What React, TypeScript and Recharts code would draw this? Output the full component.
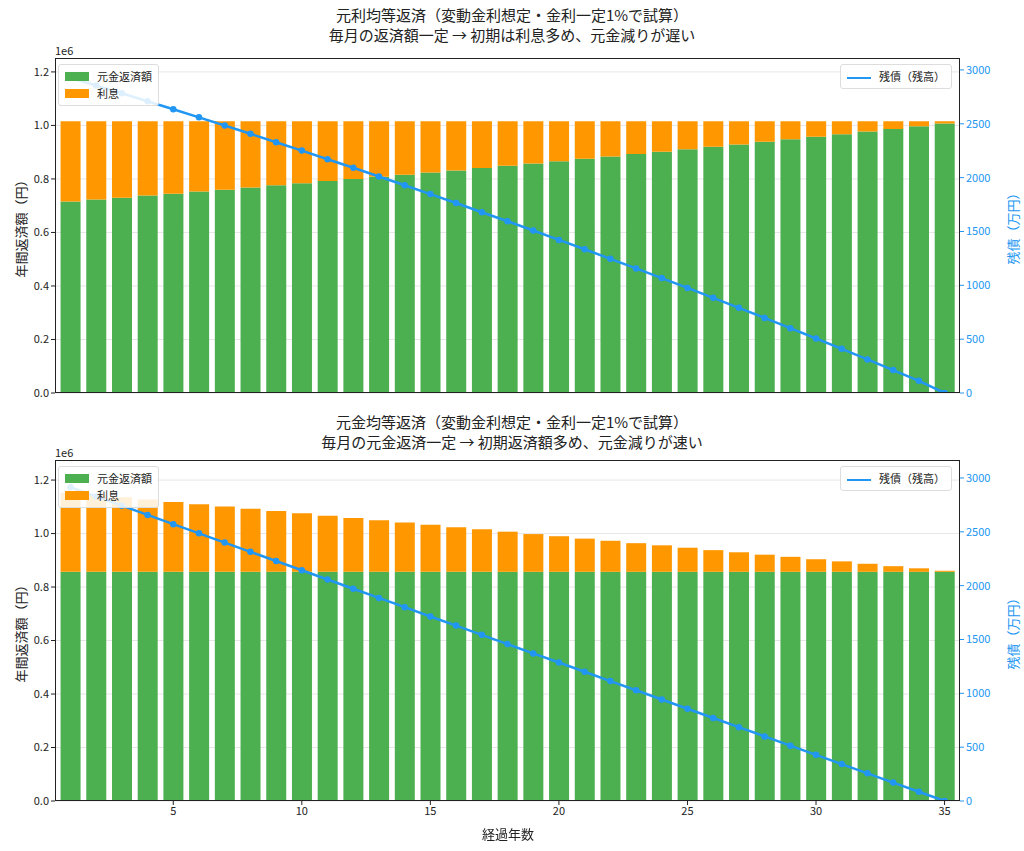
import { ComposedChart, Bar, Line, XAxis, YAxis, CartesianGrid } from 'recharts';

const years = Array.from({ length: 35 }, (_, i) => i + 1);

// 元利均等（円 / 万円）
const principalA = [716000, 723000, 730000, 738000, 745000, 753000, 760000, 768000, 776000, 784000, 792000, 800000, 808000, 816000, 824000, 832000, 841000, 849000, 858000, 866000, 875000, 884000, 893000, 902000, 911000, 920000, 929000, 939000, 948000, 958000, 967000, 977000, 987000, 997000, 1007000];
const paymentA = 1016000;
const balanceA = [2928, 2856, 2783, 2709, 2635, 2560, 2484, 2407, 2329, 2251, 2171, 2092, 2011, 1929, 1847, 1764, 1679, 1595, 1509, 1422, 1335, 1246, 1157, 1067, 976, 884, 791, 697, 602, 506, 410, 312, 213, 113, 0];

// 元金均等
const principalB = 857000;
const interestB = [296000, 287000, 279000, 270000, 261000, 253000, 244000, 236000, 227000, 219000, 210000, 201000, 193000, 184000, 176000, 167000, 159000, 150000, 141000, 133000, 124000, 116000, 107000, 99000, 90000, 81000, 73000, 64000, 56000, 47000, 39000, 30000, 21000, 13000, 4000];
const balanceB = [2914, 2829, 2743, 2657, 2571, 2486, 2400, 2314, 2229, 2143, 2057, 1971, 1886, 1800, 1714, 1629, 1543, 1457, 1371, 1286, 1200, 1114, 1029, 943, 857, 771, 686, 600, 514, 429, 343, 257, 171, 86, 0];

const dataA = years.map((y, i) => ({ year: y, principal: principalA[i], interest: paymentA - principalA[i], balance: balanceA[i] }));
const dataB = years.map((y, i) => ({ year: y, principal: principalB, interest: interestB[i], balance: balanceB[i] }));

const leftTicks = [0, 200000, 400000, 600000, 800000, 1000000, 1200000];
const rightTicks = [0, 500, 1000, 1500, 2000, 2500, 3000];
const xTicks = [5, 10, 15, 20, 25, 30, 35];

const GREEN = '#4caf50';
const ORANGE = '#ff9800';
const BLUE = '#2196f3';
const FONT = '"Noto Sans CJK JP", "Noto Sans", sans-serif';

function Panel({ data, top, plotH, leftMax, rightMax, showX }: any) {
  return (
    <div style={{ position: 'absolute', left: 0, top }}>
      <ComposedChart width={1024} height={plotH + 30} data={data} margin={{ top: 0, right: 0, left: 8, bottom: 0 }} barCategoryGap={0}>
        <CartesianGrid vertical={false} yAxisId="left" stroke="#e6e6e6" />
        <XAxis dataKey="year" type="number" domain={[0.4, 35.6]} ticks={xTicks} height={30} tick={showX ? { fontSize: 11, fill: '#222' } : false} tickLine={{ stroke: '#222' }} axisLine={false} tickSize={4} />
        <YAxis yAxisId="left" width={47} domain={[0, leftMax]} ticks={leftTicks} tickFormatter={(v) => (v / 1e6).toFixed(1)} tick={{ fontSize: 11, fill: '#222' }} tickLine={{ stroke: '#222' }} axisLine={false} tickSize={4} allowDataOverflow />
        <YAxis yAxisId="right" orientation="right" width={64} domain={[0, rightMax]} ticks={rightTicks} tick={{ fontSize: 11, fill: BLUE }} tickLine={{ stroke: BLUE }} axisLine={false} tickSize={4} allowDataOverflow />
        <Bar yAxisId="left" dataKey="principal" stackId="a" fill={GREEN} barSize={20} isAnimationActive={false} />
        <Bar yAxisId="left" dataKey="interest" stackId="a" fill={ORANGE} barSize={20} isAnimationActive={false} />
        <Line yAxisId="right" dataKey="balance" stroke={BLUE} strokeWidth={2.5} dot={{ r: 2, fill: BLUE, stroke: BLUE }} isAnimationActive={false} />
      </ComposedChart>
      <div style={{ position: 'absolute', left: 55, top: 0, width: 905, height: plotH, border: '1px solid #222', boxSizing: 'border-box', pointerEvents: 'none' }} />
      <div style={{ position: 'absolute', left: 58, top: 6, background: 'rgba(255,255,255,0.85)', border: '1px solid #ddd', borderRadius: 3, padding: '3px 6px', fontSize: 11, lineHeight: '17px' }}>
        <div><span style={{ display: 'inline-block', width: 24, height: 9, background: GREEN, marginRight: 8 }} />元金返済額</div>
        <div><span style={{ display: 'inline-block', width: 24, height: 9, background: ORANGE, marginRight: 8 }} />利息</div>
      </div>
      <div style={{ position: 'absolute', right: 72, top: 6, background: 'rgba(255,255,255,0.85)', border: '1px solid #ddd', borderRadius: 3, padding: '3px 6px', fontSize: 11, lineHeight: '17px' }}>
        <span style={{ display: 'inline-block', width: 24, height: 2.5, background: BLUE, verticalAlign: 'middle', marginRight: 8 }} />残債（残高）
      </div>
      <div style={{ position: 'absolute', left: 55, top: -16, fontSize: 11 }}>1e6</div>
      <div style={{ position: 'absolute', left: -60, top: plotH / 2 - 10, width: 160, textAlign: 'center', transform: 'rotate(-90deg)', fontSize: 13 }}>年間返済額（円）</div>
      <div style={{ position: 'absolute', left: 932, top: plotH / 2 - 10, width: 160, textAlign: 'center', transform: 'rotate(-90deg)', fontSize: 13, color: BLUE }}>残債（万円）</div>
    </div>
  );
}

export default function App() {
  return (
    <div style={{ position: 'fixed', left: 0, top: 0, width: 1024, height: 851, background: '#fff', fontFamily: FONT, color: '#222' }}>
      <div style={{ position: 'absolute', top: 5, width: 1024, textAlign: 'center', fontSize: 15, lineHeight: '20px' }}>
        元利均等返済（変動金利想定・金利一定1%で試算）<br />毎月の返済額一定 → 初期は利息多め、元金減りが遅い
      </div>
      <Panel data={dataA} top={58} plotH={335} leftMax={1252000} rightMax={3111} showX={false} />
      <div style={{ position: 'absolute', top: 412, width: 1024, textAlign: 'center', fontSize: 15, lineHeight: '20px' }}>
        元金均等返済（変動金利想定・金利一定1%で試算）<br />毎月の元金返済一定 → 初期返済額多め、元金減りが速い
      </div>
      <Panel data={dataB} top={460} plotH={341} leftMax={1275000} rightMax={3167} showX={true} />
      <div style={{ position: 'absolute', top: 824, width: 1024, paddingLeft: 0, textAlign: 'center', fontSize: 13, marginLeft: -4 }}>経過年数</div>
    </div>
  );
}
